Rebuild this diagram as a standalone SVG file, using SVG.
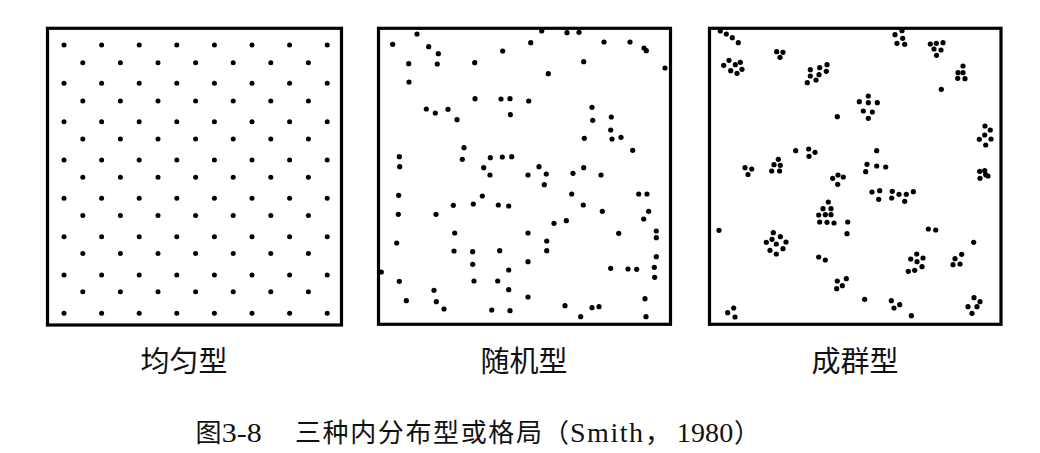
<svg xmlns="http://www.w3.org/2000/svg" width="1040" height="453" viewBox="0 0 1040 453">
<style>
.box{fill:#fff;stroke:#000;stroke-width:3.2}
.d circle{fill:#000}
.lbl{font-family:"Noto Sans CJK SC","Noto Sans CJK JP",sans-serif;font-size:29px;fill:#111}
.cj{font-family:"Noto Sans CJK SC","Noto Sans CJK JP",sans-serif;font-size:26px;fill:#111}
.la{font-family:"Liberation Serif","Noto Sans CJK SC",serif;font-size:28px;fill:#111}
</style>
<defs>
<g id="rowA" class="d"><circle cx="64" cy="0" r="2.5"/><circle cx="101.6" cy="0" r="2.5"/><circle cx="139.2" cy="0" r="2.5"/><circle cx="176.8" cy="0" r="2.5"/><circle cx="214.4" cy="0" r="2.5"/><circle cx="252" cy="0" r="2.5"/><circle cx="289.6" cy="0" r="2.5"/><circle cx="327.2" cy="0" r="2.5"/></g>
<g id="rowB" class="d"><circle cx="82.8" cy="0" r="2.5"/><circle cx="120.4" cy="0" r="2.5"/><circle cx="158" cy="0" r="2.5"/><circle cx="195.6" cy="0" r="2.5"/><circle cx="233.2" cy="0" r="2.5"/><circle cx="270.8" cy="0" r="2.5"/><circle cx="308.4" cy="0" r="2.5"/></g>
</defs>
<rect width="1040" height="453" fill="#fff"/>

<g id="uniform">
<rect class="box" x="47.5" y="28.3" width="294" height="296.7"/>
<use href="#rowA" y="45"/><use href="#rowA" y="83.3"/><use href="#rowA" y="121.7"/><use href="#rowA" y="160"/><use href="#rowA" y="198.3"/><use href="#rowA" y="236.7"/><use href="#rowA" y="275"/><use href="#rowA" y="313.3"/>
<use href="#rowB" y="62.7"/><use href="#rowB" y="100.9"/><use href="#rowB" y="139"/><use href="#rowB" y="177.2"/><use href="#rowB" y="215.4"/><use href="#rowB" y="253.5"/><use href="#rowB" y="291.7"/>
<text class="lbl" x="184" y="372" text-anchor="middle">均匀型</text>
</g>

<g id="random">
<rect class="box" x="378.5" y="28.3" width="292" height="296"/>
<g class="d">
<circle cx="417" cy="34" r="2.6"/><circle cx="392.7" cy="44.3" r="2.6"/><circle cx="428.7" cy="46.7" r="2.6"/><circle cx="438.3" cy="53.7" r="2.6"/><circle cx="408.7" cy="63.7" r="2.6"/><circle cx="437.3" cy="64" r="2.6"/><circle cx="474.7" cy="62.7" r="2.6"/><circle cx="502.7" cy="51" r="2.6"/><circle cx="409" cy="82" r="2.6"/><circle cx="475" cy="98.7" r="2.6"/><circle cx="501" cy="99" r="2.6"/><circle cx="510" cy="98.7" r="2.6"/><circle cx="528.7" cy="101" r="2.6"/><circle cx="426.3" cy="109" r="2.6"/><circle cx="435.3" cy="113" r="2.6"/><circle cx="448" cy="109.3" r="2.6"/><circle cx="457" cy="119.7" r="2.6"/><circle cx="510.3" cy="114.7" r="2.6"/><circle cx="464" cy="147.7" r="2.6"/><circle cx="399.3" cy="156.7" r="2.6"/><circle cx="399.7" cy="166.7" r="2.6"/><circle cx="462.3" cy="159.3" r="2.6"/><circle cx="490.3" cy="157.7" r="2.6"/><circle cx="502.3" cy="157" r="2.6"/><circle cx="511.7" cy="156.7" r="2.6"/><circle cx="483.7" cy="167.7" r="2.6"/><circle cx="490" cy="175" r="2.6"/>
<circle cx="541.7" cy="31" r="2.6"/><circle cx="567" cy="32.7" r="2.6"/><circle cx="579" cy="32.3" r="2.6"/><circle cx="530.7" cy="42.7" r="2.6"/><circle cx="604" cy="42" r="2.6"/><circle cx="630" cy="42" r="2.6"/><circle cx="644" cy="48" r="2.6"/><circle cx="646.3" cy="50.7" r="2.6"/><circle cx="583.7" cy="61.7" r="2.6"/><circle cx="548.3" cy="73.7" r="2.6"/><circle cx="665" cy="68" r="2.6"/><circle cx="592" cy="107.3" r="2.6"/><circle cx="592.7" cy="120.3" r="2.6"/><circle cx="611.3" cy="117" r="2.6"/><circle cx="610.7" cy="130" r="2.6"/><circle cx="584.3" cy="138.3" r="2.6"/><circle cx="612" cy="139" r="2.6"/><circle cx="621" cy="137.3" r="2.6"/><circle cx="632.7" cy="150.3" r="2.6"/><circle cx="539" cy="166.7" r="2.6"/><circle cx="583.7" cy="167.7" r="2.6"/><circle cx="528" cy="175" r="2.6"/><circle cx="546.3" cy="174" r="2.6"/><circle cx="573" cy="173.3" r="2.6"/><circle cx="601" cy="175" r="2.6"/>
<circle cx="544.3" cy="184.7" r="2.6"/><circle cx="571.7" cy="194" r="2.6"/><circle cx="638.7" cy="194" r="2.6"/><circle cx="647" cy="194" r="2.6"/><circle cx="583.3" cy="205" r="2.6"/><circle cx="602.3" cy="211.3" r="2.6"/><circle cx="648.7" cy="211.3" r="2.6"/><circle cx="554" cy="223.3" r="2.6"/><circle cx="566.3" cy="220.7" r="2.6"/><circle cx="643.7" cy="219" r="2.6"/><circle cx="528" cy="233" r="2.6"/><circle cx="618.7" cy="233.3" r="2.6"/><circle cx="656.3" cy="231" r="2.6"/><circle cx="656.3" cy="237.7" r="2.6"/><circle cx="546.7" cy="241" r="2.6"/><circle cx="546.7" cy="250.7" r="2.6"/><circle cx="528" cy="261.7" r="2.6"/><circle cx="656.3" cy="256.7" r="2.6"/><circle cx="610.7" cy="268.3" r="2.6"/><circle cx="628" cy="269" r="2.6"/><circle cx="636.7" cy="269.3" r="2.6"/><circle cx="654.3" cy="267.3" r="2.6"/><circle cx="654.7" cy="277.3" r="2.6"/><circle cx="528" cy="297" r="2.6"/><circle cx="645" cy="298.7" r="2.6"/><circle cx="565" cy="305.7" r="2.6"/><circle cx="592" cy="307.7" r="2.6"/><circle cx="599" cy="306.7" r="2.6"/><circle cx="580.7" cy="316.7" r="2.6"/><circle cx="646" cy="316.7" r="2.6"/>
<circle cx="398.7" cy="195.3" r="2.6"/><circle cx="482.3" cy="196" r="2.6"/><circle cx="453.3" cy="205.3" r="2.6"/><circle cx="473.3" cy="204" r="2.6"/><circle cx="498.3" cy="205" r="2.6"/><circle cx="508.7" cy="206" r="2.6"/><circle cx="398.3" cy="214.3" r="2.6"/><circle cx="436" cy="214.3" r="2.6"/><circle cx="454.7" cy="233" r="2.6"/><circle cx="396.7" cy="243" r="2.6"/><circle cx="454" cy="251" r="2.6"/><circle cx="472.7" cy="251.7" r="2.6"/><circle cx="499.7" cy="250.7" r="2.6"/><circle cx="472.7" cy="264.3" r="2.6"/><circle cx="508.7" cy="270" r="2.6"/><circle cx="381.3" cy="272" r="2.6"/><circle cx="399.3" cy="281.3" r="2.6"/><circle cx="474" cy="281" r="2.6"/><circle cx="497.7" cy="281" r="2.6"/><circle cx="434" cy="290.3" r="2.6"/><circle cx="508.7" cy="289.7" r="2.6"/><circle cx="406.3" cy="300.7" r="2.6"/><circle cx="436.3" cy="301.7" r="2.6"/><circle cx="444" cy="309" r="2.6"/><circle cx="491.7" cy="310" r="2.6"/><circle cx="510" cy="310.7" r="2.6"/>
</g>
<text class="lbl" x="524" y="372" text-anchor="middle">随机型</text>
</g>

<g id="clumped">
<rect class="box" x="709.5" y="28.3" width="291.5" height="296"/>
<g class="d">
<circle cx="720.3" cy="31" r="2.6"/><circle cx="726.3" cy="34" r="2.6"/><circle cx="732.3" cy="37.7" r="2.6"/><circle cx="738.3" cy="42.7" r="2.6"/>
<circle cx="776.7" cy="51.7" r="2.6"/><circle cx="783" cy="52.3" r="2.6"/><circle cx="780" cy="57.3" r="2.6"/>
<circle cx="729" cy="60.3" r="2.6"/><circle cx="740.3" cy="62.3" r="2.6"/><circle cx="735.3" cy="64.7" r="2.6"/><circle cx="723.7" cy="65.3" r="2.6"/><circle cx="742" cy="69.3" r="2.6"/><circle cx="730.7" cy="70.7" r="2.6"/><circle cx="737" cy="73.3" r="2.6"/>
<circle cx="827" cy="64.7" r="2.6"/><circle cx="819.7" cy="67.7" r="2.6"/><circle cx="810.3" cy="69.7" r="2.6"/><circle cx="826.3" cy="71.3" r="2.6"/><circle cx="819" cy="74.7" r="2.6"/><circle cx="810.3" cy="76" r="2.6"/><circle cx="816" cy="80" r="2.6"/><circle cx="807.3" cy="82.7" r="2.6"/>
<circle cx="837.3" cy="116.7" r="2.6"/>
<circle cx="795.7" cy="150.7" r="2.6"/><circle cx="808.7" cy="149" r="2.6"/><circle cx="815" cy="152.3" r="2.6"/><circle cx="809" cy="156.3" r="2.6"/>
<circle cx="745" cy="167.7" r="2.6"/><circle cx="751.7" cy="169" r="2.6"/><circle cx="748" cy="174.5" r="2.6"/>
<circle cx="778.3" cy="159.3" r="2.6"/><circle cx="774" cy="164.7" r="2.6"/><circle cx="780.3" cy="165.3" r="2.6"/><circle cx="771.7" cy="171" r="2.6"/><circle cx="779.6" cy="171" r="2.6"/>
<circle cx="832.7" cy="178.3" r="2.6"/><circle cx="838" cy="175" r="2.6"/><circle cx="843.3" cy="177" r="2.6"/><circle cx="837.7" cy="184.3" r="2.6"/>
<circle cx="828.3" cy="202" r="2.6"/><circle cx="823" cy="208.7" r="2.6"/><circle cx="831" cy="208.7" r="2.6"/><circle cx="818.7" cy="215" r="2.6"/><circle cx="825.3" cy="214.7" r="2.6"/><circle cx="831" cy="214.7" r="2.6"/><circle cx="819.7" cy="222" r="2.6"/><circle cx="827" cy="222.3" r="2.6"/><circle cx="834" cy="223" r="2.6"/>
<circle cx="847.7" cy="222" r="2.6"/><circle cx="847" cy="233.7" r="2.6"/>
<circle cx="719" cy="230.3" r="2.6"/>
<circle cx="773.3" cy="232.7" r="2.6"/><circle cx="780.3" cy="236.7" r="2.6"/><circle cx="772" cy="239.3" r="2.6"/><circle cx="766.3" cy="242.3" r="2.6"/><circle cx="786" cy="242" r="2.6"/><circle cx="776.3" cy="244" r="2.6"/><circle cx="783" cy="248.7" r="2.6"/><circle cx="770" cy="250.3" r="2.6"/><circle cx="776.3" cy="254" r="2.6"/>
<circle cx="818.7" cy="257" r="2.6"/><circle cx="825.3" cy="260" r="2.6"/>
<circle cx="846.3" cy="278.7" r="2.6"/><circle cx="837.3" cy="281" r="2.6"/><circle cx="842.3" cy="285.7" r="2.6"/><circle cx="836.7" cy="288.7" r="2.6"/>
<circle cx="733.7" cy="308" r="2.6"/><circle cx="727.7" cy="312.7" r="2.6"/><circle cx="735" cy="317" r="2.6"/>
<circle cx="902" cy="30.7" r="2.6"/><circle cx="895" cy="34.7" r="2.6"/><circle cx="902.7" cy="38.3" r="2.6"/><circle cx="897" cy="43.3" r="2.6"/><circle cx="904.7" cy="44.3" r="2.6"/>
<circle cx="930.3" cy="44" r="2.6"/><circle cx="936.3" cy="43.3" r="2.6"/><circle cx="943" cy="42.7" r="2.6"/><circle cx="934" cy="49" r="2.6"/><circle cx="941" cy="50" r="2.6"/><circle cx="936.5" cy="55.3" r="2.6"/>
<circle cx="963" cy="66" r="2.6"/><circle cx="958" cy="72.7" r="2.6"/><circle cx="963" cy="72.7" r="2.6"/><circle cx="957.7" cy="78.3" r="2.6"/><circle cx="965" cy="78.7" r="2.6"/>
<circle cx="941.3" cy="89.3" r="2.6"/>
<circle cx="868.3" cy="96" r="2.6"/><circle cx="859.3" cy="101.7" r="2.6"/><circle cx="868.3" cy="102.7" r="2.6"/><circle cx="877.3" cy="102.7" r="2.6"/><circle cx="863.3" cy="111" r="2.6"/><circle cx="872.3" cy="112" r="2.6"/><circle cx="868.3" cy="118.3" r="2.6"/>
<circle cx="985" cy="126" r="2.6"/><circle cx="990.3" cy="130" r="2.6"/><circle cx="984.7" cy="135" r="2.6"/><circle cx="979.3" cy="139.3" r="2.6"/><circle cx="991" cy="139" r="2.6"/><circle cx="985.7" cy="145" r="2.6"/>
<circle cx="876.7" cy="150.7" r="2.6"/>
<circle cx="867" cy="164.3" r="2.6"/><circle cx="876.7" cy="166" r="2.6"/><circle cx="885.7" cy="167" r="2.6"/><circle cx="865.7" cy="171.7" r="2.6"/>
<circle cx="979.7" cy="171.3" r="2.6"/><circle cx="984.7" cy="170.7" r="2.6"/><circle cx="985.7" cy="174.7" r="2.6"/><circle cx="980" cy="178.3" r="2.6"/><circle cx="988" cy="176" r="2.6"/>
<circle cx="872" cy="192" r="2.6"/><circle cx="879.7" cy="190.7" r="2.6"/><circle cx="878.7" cy="199.3" r="2.6"/>
<circle cx="892.3" cy="191.3" r="2.6"/><circle cx="899" cy="194.3" r="2.6"/><circle cx="906.3" cy="194.3" r="2.6"/><circle cx="913.3" cy="191.7" r="2.6"/><circle cx="891.7" cy="198" r="2.6"/><circle cx="904.7" cy="201.3" r="2.6"/>
<circle cx="928.3" cy="229" r="2.6"/><circle cx="935.7" cy="230" r="2.6"/>
<circle cx="973.7" cy="242.3" r="2.6"/>
<circle cx="916.7" cy="254" r="2.6"/><circle cx="910.7" cy="259" r="2.6"/><circle cx="923" cy="258" r="2.6"/><circle cx="917" cy="261.7" r="2.6"/><circle cx="922" cy="266.7" r="2.6"/><circle cx="914.7" cy="270.3" r="2.6"/><circle cx="908.3" cy="271.3" r="2.6"/>
<circle cx="961.7" cy="254.3" r="2.6"/><circle cx="955" cy="258.7" r="2.6"/><circle cx="953" cy="264.7" r="2.6"/><circle cx="960" cy="264" r="2.6"/>
<circle cx="864.7" cy="299.3" r="2.6"/>
<circle cx="891.3" cy="300.7" r="2.6"/><circle cx="899.7" cy="304.7" r="2.6"/><circle cx="894" cy="308" r="2.6"/>
<circle cx="911.3" cy="315.7" r="2.6"/>
<circle cx="974" cy="297.7" r="2.6"/><circle cx="980" cy="301.7" r="2.6"/><circle cx="968" cy="306.7" r="2.6"/><circle cx="977" cy="306.7" r="2.6"/><circle cx="972" cy="313.3" r="2.6"/>
</g>
<text class="lbl" x="855" y="372" text-anchor="middle">成群型</text>
</g>

<g id="caption">
<text class="cj" x="195.5" y="442">图</text>
<text class="la" x="221.7" y="442" textLength="40" lengthAdjust="spacingAndGlyphs">3-8</text>
<text class="cj" x="295" y="442" textLength="247" lengthAdjust="spacing">三种内分布型或格局</text>
<text class="cj" x="543" y="442">（</text>
<text class="la" x="570" y="442" textLength="73" lengthAdjust="spacing">Smith</text>
<text class="cj" x="645" y="442">，</text>
<text class="la" x="676.7" y="442" textLength="56.6" lengthAdjust="spacing">1980</text>
<text class="cj" x="734" y="442">）</text>
</g>
</svg>
